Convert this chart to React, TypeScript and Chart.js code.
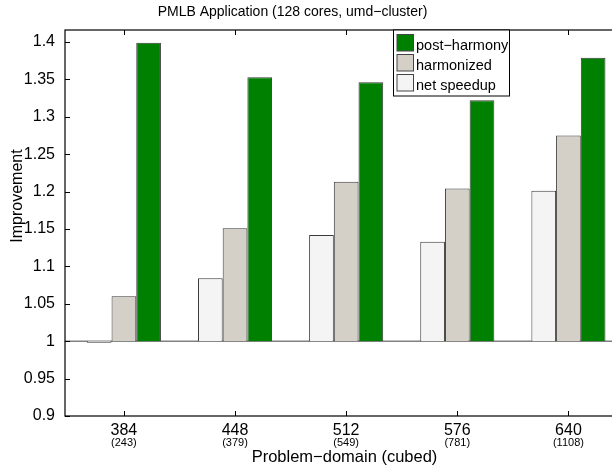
import React, { useEffect, useRef } from 'react';
import { Chart, registerables } from 'chart.js';

Chart.register(...registerables);

// ---- data ----
const positions = [1, 2, 3, 4, 5];
const domains = ['384', '448', '512', '576', '640'];
const cubedSizes = ['(243)', '(379)', '(549)', '(781)', '(1108)'];
const netSpeedup = [0.998, 1.084, 1.142, 1.133, 1.201];
const harmonized = [1.06, 1.151, 1.213, 1.204, 1.275];
const postHarmony = [1.399, 1.353, 1.346, 1.322, 1.379];
const yTicks = [0.9, 0.95, 1, 1.05, 1.1, 1.15, 1.2, 1.25, 1.3, 1.35, 1.4];
const seriesNames = ['net speedup', 'harmonized', 'post\u2212harmony'];
const seriesColors = ['#f4f4f4', '#d4d0c8', '#008000'];
const titleText = 'PMLB Application (128 cores, umd\u2212cluster)';
const xTitle = 'Problem\u2212domain (cubed)';
const yTitle = 'Improvement';

const FONT = "'Liberation Sans', Arial, Helvetica, sans-serif";

const toPoints = (vals: number[]) => vals.map((v, i) => ({ x: positions[i], y: v }));

const decorPlugin = {
  id: 'decor',
  beforeDatasetsDraw(chart: any) {
    const { ctx, chartArea, scales } = chart;
    const y1 = scales.y.getPixelForValue(1);
    ctx.save();
    ctx.strokeStyle = '#808080';
    ctx.lineWidth = 1.5;
    ctx.beginPath();
    ctx.moveTo(chartArea.left, y1);
    ctx.lineTo(chartArea.right, y1);
    ctx.stroke();
    ctx.restore();
  },
  afterDatasetsDraw(chart: any) {
    const { ctx, chartArea, scales } = chart;
    const { left, right, top, bottom } = chartArea;
    ctx.save();
    // frame
    ctx.strokeStyle = '#000';
    ctx.lineWidth = 1.2;
    ctx.strokeRect(left, top, right - left, bottom - top);
    // y ticks (inward)
    ctx.beginPath();
    yTicks.forEach((v) => {
      const py = Math.round(scales.y.getPixelForValue(v)) + 0.5;
      ctx.moveTo(left, py);
      ctx.lineTo(left + 5, py);
    });
    // x ticks (bottom & top, inward)
    positions.forEach((p) => {
      const px = Math.round(scales.x.getPixelForValue(p)) + 0.5;
      ctx.moveTo(px, bottom);
      ctx.lineTo(px, bottom - 5);
      ctx.moveTo(px, top);
      ctx.lineTo(px, top + 5);
    });
    ctx.lineWidth = 1;
    ctx.stroke();

    // sub labels under category ticks
    ctx.fillStyle = '#000';
    ctx.font = `11px ${FONT}`;
    ctx.textAlign = 'center';
    ctx.textBaseline = 'middle';
    positions.forEach((p, i) => {
      ctx.fillText(cubedSizes[i], scales.x.getPixelForValue(p), 443);
    });

    // title
    ctx.font = `14px ${FONT}`;
    ctx.fillText(titleText, 292.5, 12.5);

    // y-axis title
    ctx.save();
    ctx.translate(18, 196);
    ctx.rotate(-Math.PI / 2);
    ctx.font = `16px ${FONT}`;
    ctx.fillText(yTitle, 0, 0);
    ctx.restore();

    // legend box
    const lx = 393, ly = top, lw = 116, lh = 66;
    ctx.fillStyle = '#fff';
    ctx.fillRect(lx, ly, lw, lh);
    ctx.strokeStyle = '#000';
    ctx.lineWidth = 1;
    ctx.strokeRect(lx + 0.5, ly, lw, lh);
    const order = [2, 1, 0];
    ctx.font = `14.5px ${FONT}`;
    ctx.textAlign = 'left';
    ctx.textBaseline = 'alphabetic';
    order.forEach((di, k) => {
      const ds = chart.data.datasets[di];
      const sy = ly + 4.5 + k * 20;
      ctx.fillStyle = ds.backgroundColor;
      ctx.fillRect(lx + 4, sy, 16.5, 16.5);
      ctx.strokeStyle = '#444';
      ctx.strokeRect(lx + 4, sy, 16.5, 16.5);
      ctx.fillStyle = '#000';
      ctx.fillText(ds.label, lx + 23, sy + 15.5);
    });
    ctx.restore();
  },
};

export default function App() {
  const ref = useRef<HTMLCanvasElement | null>(null);

  useEffect(() => {
    if (!ref.current) return;
    Chart.defaults.font.family = FONT;
    Chart.defaults.color = '#000';
    const chart = new Chart(ref.current, {
      type: 'bar',
      data: {
        datasets: [0, 1, 2].map((i) => ({
          label: seriesNames[i],
          data: toPoints([netSpeedup, harmonized, postHarmony][i]),
          backgroundColor: seriesColors[i],
          borderColor: '#3a3a3a',
          borderWidth: 1,
          base: 1,
          categoryPercentage: 2 / 3,
          barPercentage: 1,
        })) as any,
      },
      options: {
        responsive: false,
        animation: false,
        devicePixelRatio: 1,
        layout: { padding: { top: 30, left: 0, right: 0, bottom: 0 } },
        plugins: {
          legend: { display: false },
          title: { display: false },
          tooltip: { enabled: false },
        },
        scales: {
          x: {
            type: 'linear',
            position: 'bottom',
            min: 0.47,
            max: 5.5,
            offset: false,
            bounds: 'data',
            grid: { display: false, offset: false },
            border: { display: false },
            afterBuildTicks: (s: any) => {
              s.ticks = positions.map((v) => ({ value: v }));
            },
            afterFit: (s: any) => {
              s.height = 53;
            },
            ticks: {
              autoSkip: false,
              maxRotation: 0,
              padding: -3,
              font: { size: 16 },
              callback: (v: any) => {
                const i = positions.indexOf(Number(v));
                return i >= 0 ? domains[i] : '';
              },
            },
            title: {
              display: true,
              text: xTitle,
              font: { size: 16.5 },
              padding: { top: 0, bottom: 2 },
            },
          },
          y: {
            type: 'linear',
            min: 0.9,
            max: 1.416,
            bounds: 'data',
            grid: { display: false },
            border: { display: false },
            afterBuildTicks: (s: any) => {
              s.ticks = yTicks.map((v) => ({ value: v }));
            },
            afterFit: (s: any) => {
              s.width = 65;
            },
            ticks: {
              padding: 2,
              font: { size: 16 },
              callback: (v: any) => String(Number(Number(v).toFixed(2))),
            },
            title: { display: false },
          },
        },
      },
      plugins: [decorPlugin],
    });
    return () => chart.destroy();
  }, []);

  return (
    <div
      style={{
        position: 'fixed',
        left: 0,
        top: 0,
        width: 612,
        height: 469,
        overflow: 'hidden',
        background: '#fff',
      }}
    >
      <canvas ref={ref} width={624} height={469} style={{ display: 'block' }} />
    </div>
  );
}
